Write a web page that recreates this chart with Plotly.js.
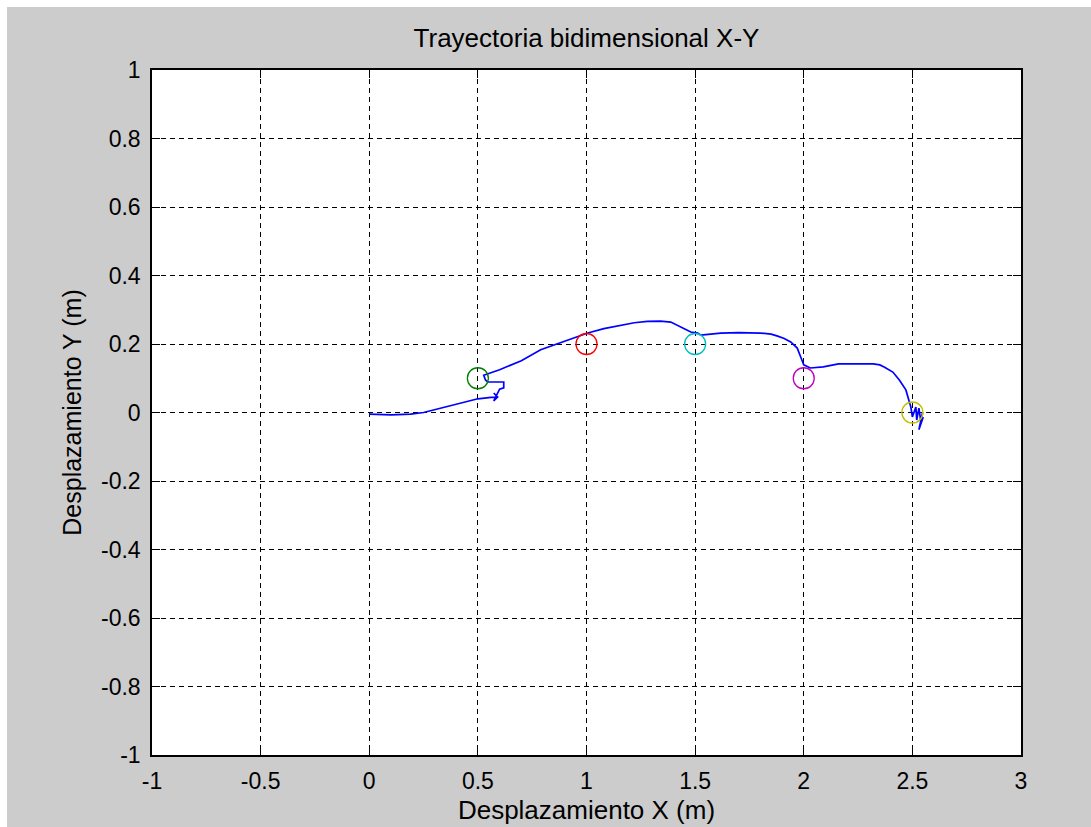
<!DOCTYPE html>
<html>
<head>
<meta charset="utf-8">
<script src="https://cdn.plot.ly/plotly-3.0.1.min.js"></script>
<style>
  html, body { margin: 0; padding: 0; background: #ffffff; }
  #plot { position: absolute; left: 7px; top: 7px; width: 1084px; height: 820px; }
</style>
</head>
<body>
<div id="plot"></div>
<script>
// Robot path in the X-Y plane (metres)
const pathX = [0.000, 0.05, 0.10, 0.19, 0.25, 0.30, 0.36, 0.42, 0.50, 0.56, 0.591, 0.573, 0.591, 0.573, 0.60, 0.619, 0.619, 0.56, 0.545, 0.535, 0.53,
  0.527, 0.60, 0.70, 0.789, 0.895, 1.006, 1.08, 1.158, 1.22, 1.28, 1.34, 1.388, 1.434, 1.48, 1.512, 1.526,
  1.618, 1.70, 1.80, 1.85, 1.88, 1.91, 1.94, 1.97, 1.986, 2.0, 2.03, 2.09, 2.16, 2.25, 2.32, 2.35, 2.37, 2.41, 2.44,
  2.47, 2.484, 2.493, 2.50, 2.516, 2.52, 2.53, 2.54, 2.547, 2.53, 2.55];
const pathY = [-0.005, -0.007, -0.007, -0.005, 0.000, 0.008, 0.018, 0.028, 0.040, 0.044, 0.045, 0.057, 0.045, 0.034, 0.068, 0.072, 0.089, 0.089, 0.089, 0.095, 0.105,
  0.109, 0.125, 0.151, 0.183, 0.206, 0.232, 0.245, 0.255, 0.262, 0.266, 0.267, 0.264, 0.250, 0.235, 0.232, 0.226,
  0.232, 0.233, 0.232, 0.229, 0.223, 0.216, 0.206, 0.188, 0.162, 0.139, 0.130, 0.133, 0.142, 0.143, 0.142, 0.139, 0.133, 0.118, 0.095,
  0.066, 0.036, 0.016, -0.013, 0.016, -0.022, 0.013, -0.030, 0.000, -0.050, -0.013];

// Waypoints
const wpX = [0.5, 1.0, 1.5, 2.0, 2.5];
const wpY = [0.1, 0.2, 0.2, 0.1, 0.0];
const wpColors = ['rgb(0,128,0)', 'rgb(255,0,0)', 'rgb(0,191,191)', 'rgb(191,0,191)', 'rgb(191,191,0)'];

// Axis ticks
const xTicks = [-1, -0.5, 0, 0.5, 1, 1.5, 2, 2.5, 3];
const xTickText = ['-1', '-0.5', '0', '0.5', '1', '1.5', '2', '2.5', '3'];
const yTicks = [-1, -0.8, -0.6, -0.4, -0.2, 0, 0.2, 0.4, 0.6, 0.8, 1];
const yTickText = ['-1', '-0.8', '-0.6', '-0.4', '-0.2', '0', '0.2', '0.4', '0.6', '0.8', '1'];

const font = 'Arial, "Liberation Sans", sans-serif';

const traces = [
  {
    x: pathX, y: pathY, type: 'scatter', mode: 'lines',
    line: { color: 'rgb(0,0,255)', width: 1.7 },
    hoverinfo: 'x+y'
  },
  {
    x: wpX, y: wpY, type: 'scatter', mode: 'markers',
    marker: { symbol: 'circle-open', size: 21, color: wpColors, line: { width: 1.3, color: wpColors } },
    hoverinfo: 'x+y'
  }
];

const axisCommon = {
  showgrid: true, gridcolor: '#000000', gridwidth: 1.2, griddash: '5px,4px',
  zeroline: false, showline: true, linecolor: '#000000', linewidth: 1.5, mirror: 'ticks',
  ticks: 'inside', ticklen: 8, tickcolor: '#000000', tickwidth: 1,
  tickfont: { family: font, size: 23, color: '#000000' },
  tickmode: 'array', ticklabelstandoff: 5
};

const layout = {
  width: 1084, height: 820,
  paper_bgcolor: '#cccccc', plot_bgcolor: '#ffffff',
  margin: { l: 145, r: 70, t: 63, b: 72 },
  showlegend: false,
  title: { text: 'Trayectoria bidimensional X-Y', font: { family: font, size: 26, color: '#000000' }, xref: 'paper', x: 0.5, xanchor: 'center', y: 0.962, yanchor: 'middle' },
  xaxis: Object.assign({}, axisCommon, {
    range: [-1, 3], tickvals: xTicks, ticktext: xTickText,
    title: { text: 'Desplazamiento X (m)', font: { family: font, size: 26, color: '#000000' }, standoff: 7 }
  }),
  yaxis: Object.assign({}, axisCommon, {
    range: [-1, 1], tickvals: yTicks, ticktext: yTickText,
    title: { text: 'Desplazamiento Y (m)', font: { family: font, size: 25, color: '#000000' }, standoff: 12 }
  })
};

Plotly.newPlot('plot', traces, layout, { displayModeBar: false });
</script>
</body>
</html>
